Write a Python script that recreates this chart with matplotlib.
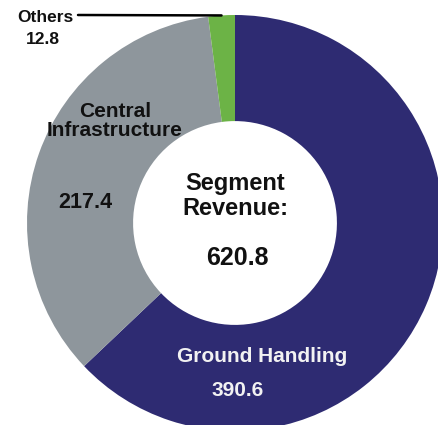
import matplotlib.pyplot as plt
import numpy as np

plt.rcParams['font.family'] = ['Liberation Sans', 'DejaVu Sans']

segments = ['Ground Handling', 'Central\nInfrastructure', 'Others']
revenue = [390.6, 217.4, 12.8]
colors = ['#2e2b72', '#8e969c', '#6cb346']
total = 620.8

fig = plt.figure(figsize=(4.38, 4.25), dpi=100)
ax = fig.add_axes([0, 0, 1, 1])

# ring: outer radius 1, hole about half of it
ax.pie(revenue, colors=colors, startangle=90, counterclock=False,
       radius=1.0, wedgeprops=dict(width=0.51, linewidth=0))

# pixel layout -> data coords (centre at 235,223 px, radius 208 px)
def pos(px, py):
    return (px - 235) / 208, (223 - py) / 208

ax.set_xlim(-235 / 208, 203 / 208)
ax.set_ylim((223 - 425) / 208, 223 / 208)
ax.set_aspect('auto')
ax.axis('off')

# ground handling
ax.text(*pos(262, 357), segments[0], ha='center', va='center',
        fontsize=15, fontweight='bold', color='#f2f2f2')
ax.text(*pos(238, 390), f'{revenue[0]:.1f}', ha='center', va='center',
        fontsize=15, fontweight='bold', color='#f2f2f2')

# central infrastructure
ax.text(*pos(115, 121), segments[1], ha='center', va='center',
        fontsize=15, fontweight='bold', color='#111111', linespacing=1.0)
ax.text(*pos(85, 203), f'{revenue[1]:.1f}', ha='center', va='center',
        fontsize=15.5, fontweight='bold', color='#111111')

# others, with a leader line to the middle of the small slice
ang = np.deg2rad(90 - 360 * (revenue[0] + revenue[1] + revenue[2] / 2) / total)
tip = (np.cos(ang) * 1.0, np.sin(ang) * 1.0)
ax.annotate('', xy=tip, xytext=pos(78, 15),
            arrowprops=dict(arrowstyle='-', color='black', lw=1.8,
                            shrinkA=0, shrinkB=0))
ax.text(*pos(45, 17), segments[2], ha='center', va='center',
        fontsize=12.5, fontweight='bold', color='#111111')
ax.text(*pos(43, 40), f'{revenue[2]:.1f}', ha='center', va='center',
        fontsize=12.5, fontweight='bold', color='#111111')

# centre label
ax.text(*pos(235, 196), 'Segment\nRevenue:', ha='center', va='center',
        fontsize=17, fontweight='bold', color='#111111', linespacing=1.15)
ax.text(*pos(237, 258), f'{total:.1f}', ha='center', va='center',
        fontsize=18, fontweight='bold', color='#111111')

fig.savefig('out.png', dpi=100)
